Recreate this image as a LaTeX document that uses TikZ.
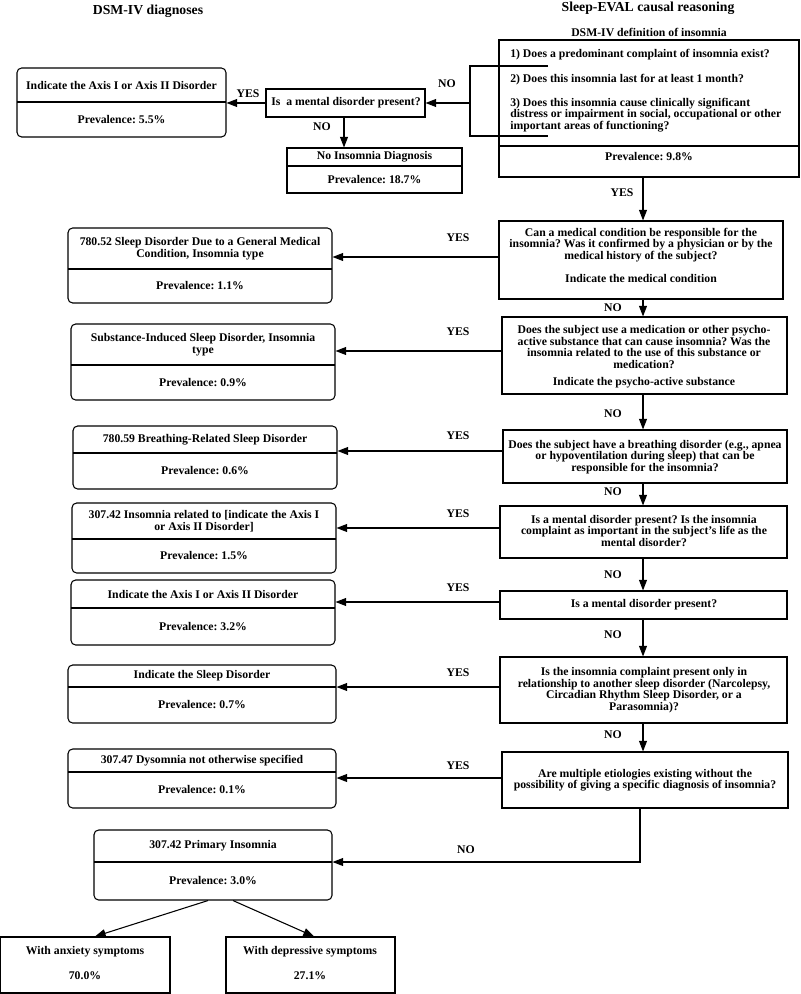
\documentclass[tikz,border=0pt]{standalone}
\usepackage{fontspec}
\setmainfont{Liberation Serif}
\usetikzlibrary{arrows.meta,fit}
\frenchspacing
\newcommand{\twobox}[9]{%
  \node[#9, fit={(#2,#3) (#4,#5)}] (#1) {};
  \draw[ln] (#2,#6) -- (#4,#6);
  \node[txt] (#1t) at ({(#2+#4)/2},{(#3+#6)/2}) {#7};
  \node[txt] (#1p) at ({(#2+#4)/2},{(#6+#5)/2}) {#8};
}
\begin{document}
\frenchspacing
\begin{tikzpicture}[x=0.75pt,y=-0.75pt,
  every node/.style={font=\fontsize{8.8}{8.6}\selectfont\bfseries, inner sep=0pt},
  txt/.style={align=center},
  ttl/.style={font=\fontsize{10.3}{12}\selectfont\bfseries},
  sbox/.style={draw, line width=0.8pt, inner sep=0pt},
  rbox/.style={draw, line width=0.8pt, rounded corners=3.5pt, inner sep=0pt},
  ln/.style={line width=0.8pt},
  arr/.style={line width=0.8pt, -{Triangle[length=8pt,width=6pt]}}
]
\useasboundingbox (0,0) rectangle (800,994);

% titles
\node[ttl] (t1) at (148,11) {DSM-IV diagnoses};
\node[ttl] (t2) at (648,8) {Sleep-EVAL causal reasoning};
\node (t3) at (649,32) {DSM-IV definition of insomnia};

% DSM-IV definition box
\node[sbox, fit={(499,40) (799,177)}] (dsm) {};
\draw[ln] (499,146) -- (799,146);
\node[anchor=west] (i1) at (510,55) {1) Does a predominant complaint of insomnia exist?};
\node[anchor=west] (i2) at (510,80) {2) Does this insomnia last for at least 1 month?};
\node[anchor=west, align=left] (i3) at (510,115) {3) Does this insomnia cause clinically significant\\distress or impairment in social, occupational or other\\important areas of functioning?};
\node (dsmp) at (649,157) {Prevalence: 9.8\%};
\draw[ln] (548,66) -- (470,66) -- (470,136) -- (548,136);
\coordinate (brk) at (470,103);

% top: is a mental disorder present
\node[sbox, fit={(266,89) (425,117)}] (ismd) {};
\node (ismdt) at (346,103) {Is\ \ a mental disorder present?};
\draw[arr] (brk) -- (ismd.east);
\node (n0) at (447,84) {NO};

\twobox{b0}{17}{68}{226}{137}{102}{Indicate the Axis I or Axis II Disorder}{Prevalence: 5.5\%}{rbox}
\draw[arr] (ismd.west) -- (b0.east |- ismd.west);
\node (y0) at (248,94) {YES};

\twobox{ni}{287}{148}{462}{193}{166}{No Insomnia Diagnosis}{Prevalence: 18.7\%}{sbox}
\coordinate (nx) at (344,0);
\draw[arr] (ismd.south -| nx) -- (ni.north -| nx);
\node (n1) at (322,127) {NO};

% main column
\coordinate (ax) at (643,0);

% Q1
\node[sbox, fit={(499,221) (783,299)}] (q1) {};
\node[txt] (q1t) at (641,245) {Can a medical condition be responsible for the\\insomnia? Was it confirmed by a physician or by the\\medical history of the subject?};
\node (q1i) at (641,278) {Indicate the medical condition};
\draw[arr] (dsm.south -| ax) -- (q1.north -| ax);
\node (y1) at (622,193) {YES};
\twobox{b1}{68}{228}{332}{303}{269}{780.52 Sleep Disorder Due to a General Medical\\Condition, Insomnia type}{Prevalence: 1.1\%}{rbox}
\coordinate (a1) at (0,257);
\draw[arr] (q1.west |- a1) -- (b1.east |- a1);
\node (y1b) at (458,238) {YES};

% Q2
\node[sbox, fit={(502,317) (787,394)}] (q2) {};
\node[txt] (q2t) at (644,347) {Does the subject use a medication or other psycho-\\active substance that can cause insomnia? Was the\\insomnia related to the use of this substance or\\medication?};
\node (q2i) at (644,383) {Indicate the psycho-active substance};
\draw[arr] (q1.south -| ax) -- (q2.north -| ax);
\node (n2) at (613,308) {NO};
\twobox{b2}{71}{324}{335}{400}{365}{Substance-Induced Sleep Disorder, Insomnia\\type}{Prevalence: 0.9\%}{rbox}
\coordinate (a2) at (0,351);
\draw[arr] (q2.west |- a2) -- (b2.east |- a2);
\node (y2) at (458,332) {YES};

% Q3
\node[sbox, fit={(503,430) (787,483)}] (q3) {};
\node[txt] (q3t) at (645,457) {Does the subject have a breathing disorder (e.g., apnea\\or hypoventilation during sleep) that can be\\responsible for the insomnia?};
\draw[arr] (q2.south -| ax) -- (q3.north -| ax);
\node (n3) at (613,414) {NO};
\twobox{b3}{73}{426}{337}{489}{453}{780.59 Breathing-Related Sleep Disorder}{Prevalence: 0.6\%}{rbox}
\coordinate (a3) at (0,451);
\draw[arr] (q3.west |- a3) -- (b3.east |- a3);
\node (y3) at (458,436) {YES};

% Q4
\node[sbox, fit={(500,506) (787,558)}] (q4) {};
\node[txt] (q4t) at (644,531) {Is a mental disorder present? Is the insomnia\\complaint as important in the subject's life as the\\mental disorder?};
\draw[arr] (q3.south -| ax) -- (q4.north -| ax);
\node (n4) at (613,492) {NO};
\twobox{b4}{72}{503}{336}{573}{539}{307.42 Insomnia related to [indicate the Axis I\\or Axis II Disorder]}{Prevalence: 1.5\%}{rbox}
\coordinate (a4) at (0,528);
\draw[arr] (q4.west |- a4) -- (b4.east |- a4);
\node (y4) at (458,514) {YES};

% Q5
\node[sbox, fit={(500,591) (787,619)}] (q5) {};
\node (q5t) at (644,605) {Is a mental disorder present?};
\draw[arr] (q4.south -| ax) -- (q5.north -| ax);
\node (n5) at (613,575) {NO};
\twobox{b5}{71}{580}{335}{645}{608}{Indicate the Axis I or Axis II Disorder}{Prevalence: 3.2\%}{rbox}
\coordinate (a5) at (0,602);
\draw[arr] (q5.west |- a5) -- (b5.east |- a5);
\node (y5) at (458,588) {YES};

% Q6
\node[sbox, fit={(500,657) (787,723)}] (q6) {};
\node[txt] (q6t) at (644,690) {Is the insomnia complaint present only in\\relationship to another sleep disorder (Narcolepsy,\\Circadian Rhythm Sleep Disorder, or a\\Parasomnia)?};
\draw[arr] (q5.south -| ax) -- (q6.north -| ax);
\node (n6) at (613,635) {NO};
\twobox{b6}{68}{665}{336}{723}{687}{Indicate the Sleep Disorder}{Prevalence: 0.7\%}{rbox}
\coordinate (a6) at (0,687);
\draw[arr] (q6.west |- a6) -- (b6.east |- a6);
\node (y6) at (458,673) {YES};

% Q7
\node[sbox, fit={(502,752) (788,808)}] (q7) {};
\node[txt] (q7t) at (645,780) {Are multiple etiologies existing without the\\possibility of giving a specific diagnosis of insomnia?};
\draw[arr] (q6.south -| ax) -- (q7.north -| ax);
\node (n7) at (613,735) {NO};
\twobox{b7}{68}{749}{336}{808}{772}{307.47 Dysomnia not otherwise specified}{Prevalence: 0.1\%}{rbox}
\coordinate (a7) at (0,778);
\draw[arr] (q7.west |- a7) -- (b7.east |- a7);
\node (y7) at (458,766) {YES};

% primary insomnia
\twobox{prim}{94}{830}{332}{900}{862}{307.42 Primary Insomnia}{Prevalence: 3.0\%}{rbox}
\coordinate (nx2) at (640,862);
\draw[arr] (q7.south -| nx2) -- (nx2) -- (prim.east |- nx2);
\node (n8) at (466,850) {NO};

% subtypes
\node[sbox, fit={(0,937) (170,993)}] (anx) {};
\node (anxt) at (85,952) {With anxiety symptoms};
\node (anxp) at (85,976) {70.0\%};
\node[sbox, fit={(226,937) (395,993)}] (dep) {};
\node (dept) at (310,952) {With depressive symptoms};
\node (depp) at (310,976) {27.1\%};
\coordinate (pax) at (208,0);
\coordinate (pdx) at (233,0);
\coordinate (aax) at (95,0);
\coordinate (adx) at (314,0);
\draw[arr] (prim.south -| pax) -- (anx.north -| aax);
\draw[arr] (prim.south -| pdx) -- (dep.north -| adx);
\end{tikzpicture}
\end{document}
